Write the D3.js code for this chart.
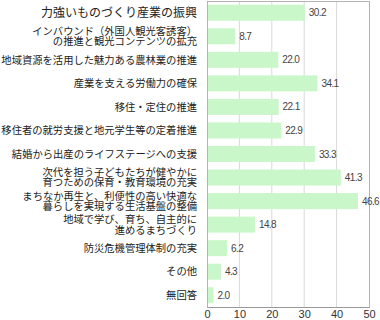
<!DOCTYPE html>
<html><head><meta charset="utf-8">
<script src="https://cdn.jsdelivr.net/npm/d3@7"></script>
<style>
html,body{margin:0;padding:0;background:#fff;}
svg{display:block;}
</style></head><body>
<svg id="c" width="380" height="320"></svg>
<script>
const categories = [
  ["力強いものづくり産業の振興"],
  ["インバウンド（外国人観光客誘客）","の推進と観光コンテンツの拡充"],
  ["地域資源を活用した魅力ある農林業の推進"],
  ["産業を支える労働力の確保"],
  ["移住・定住の推進"],
  ["移住者の就労支援と地元学生等の定着推進"],
  ["結婚から出産のライフステージへの支援"],
  ["次代を担う子どもたちが健やかに","育つための保育・教育環境の充実"],
  ["まちなか再生と、利便性の高い快適な","暮らしを実現する生活基盤の整備"],
  ["地域で学び、育ち、自主的に","進めるまちづくり"],
  ["防災危機管理体制の充実"],
  ["その他"],
  ["無回答"]
];
const values = [30.2, 8.7, 22.0, 34.1, 22.1, 22.9, 33.3, 41.3, 46.6, 14.8, 6.2, 4.3, 2.0];
const xTicks = [0, 10, 20, 30, 40, 50];

const svg = d3.select("#c");
const L = 207, R = 369, T = 1, B = 307;
const x = d3.scaleLinear().domain([0, 50]).range([L, R]);
const y = d3.scaleBand().domain(d3.range(categories.length)).range([T, B]).paddingInner(0.32).paddingOuter(0.16);

// gridlines
svg.append("g").selectAll("line").data(xTicks.slice(1, -1)).join("line")
  .attr("x1", d => x(d)).attr("x2", d => x(d)).attr("y1", T).attr("y2", B)
  .attr("stroke", "#d9d9d9").attr("stroke-width", 1);

// bars
svg.append("g").selectAll("rect").data(values).join("rect")
  .attr("x", x(0)).attr("y", (d, i) => y(i))
  .attr("width", d => x(d) - x(0)).attr("height", y.bandwidth())
  .attr("fill", "#c9f7c9");

// plot border
svg.append("rect").attr("x", L + 0.5).attr("y", T + 0.5).attr("width", R - L).attr("height", B - T)
  .attr("fill", "none").attr("stroke", "#b3b3b3").attr("stroke-width", 1);

// x axis
const xAxis = d3.axisBottom(x).tickValues(xTicks).tickSize(0).tickPadding(3).tickFormat(d3.format("d"));
const gx = svg.append("g").attr("transform", `translate(0,${B})`).call(xAxis);
gx.select(".domain").attr("stroke", "#999");
gx.selectAll("text").attr("font-family", "'Liberation Sans', Arial, sans-serif").attr("font-size", 11).attr("fill", "#333");

// value labels
svg.append("g").selectAll("text").data(values).join("text")
  .attr("x", d => x(d) + 4).attr("y", (d, i) => y(i) + y.bandwidth() / 2)
  .attr("dy", "0.35em")
  .attr("font-family", "'Liberation Sans', Arial, sans-serif").attr("font-size", 10)
  .attr("letter-spacing", "-0.6").attr("fill", "#444")
  .text(d => d.toFixed(1));

// category labels
const lg = svg.append("g").attr("font-family", "'Noto Sans CJK JP', sans-serif").attr("fill", "#222");
categories.forEach((lines, i) => {
  const cy = y(i) + y.bandwidth() / 2;
  const fs = i === 0 ? 12 : 10.3;
  const lh = 10.5;
  const t = lg.append("text").attr("text-anchor", "end").attr("font-size", fs);
  lines.forEach((s, j) => {
    t.append("tspan").attr("x", 197)
      .attr("y", cy + (j - (lines.length - 1) / 2) * lh)
      .attr("dy", "0.36em").text(s);
  });
});
</script>
</body></html>
